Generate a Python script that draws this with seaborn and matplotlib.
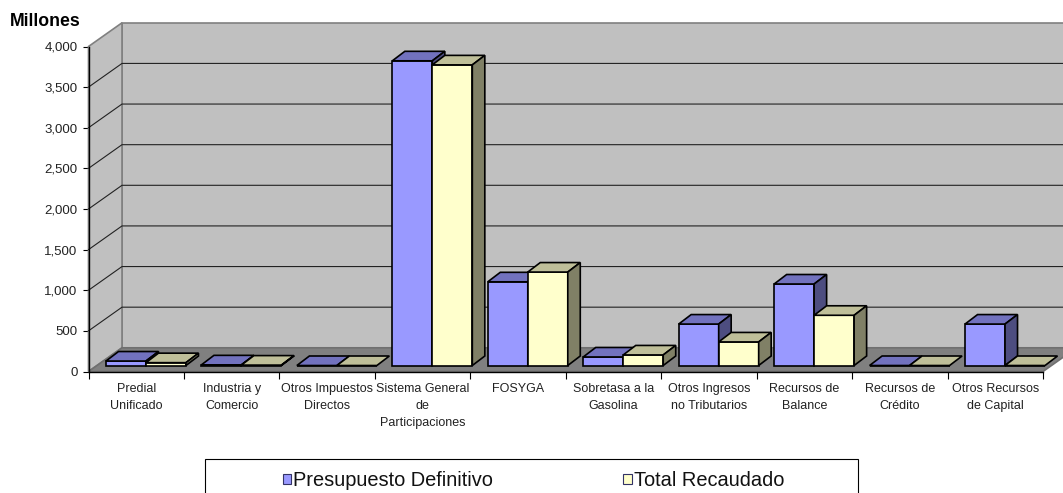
import pandas as pd
import seaborn as sns
import matplotlib.pyplot as plt
from matplotlib.patches import Polygon, Rectangle
from matplotlib.transforms import Affine2D

categorias = ['Predial\nUnificado', 'Industria y\nComercio', 'Otros Impuestos\nDirectos',
              'Sistema General\nde\nParticipaciones', 'FOSYGA', 'Sobretasa a la\nGasolina',
              'Otros Ingresos\nno Tributarios', 'Recursos de\nBalance', 'Recursos de\nCrédito',
              'Otros Recursos\nde Capital']
presupuesto = [55, 8, 0, 3750, 1030, 105, 510, 1003, 0, 510]
recaudado = [35, 5, 0, 3700, 1150, 130, 290, 618, 0, 0]
y_ticks = [0, 500, 1000, 1500, 2000, 2500, 3000, 3500, 4000]
y_labels = ['0', '500', '1,000', '1,500', '2,000', '2,500', '3,000', '3,500', '4,000']

W, H = 1063, 493
# profundidad del "3D" en pixeles
DX, DY = 33.5, 23.7
BAR_DX, BAR_DY = 9.75, 6
BAR_DEPTH_X, BAR_DEPTH_Y = 12.5, 9.5

sns.set_theme(style='white')
plt.rcParams['font.family'] = ['Liberation Sans', 'DejaVu Sans']

df = pd.DataFrame({
    'cat': categorias * 2,
    'valor': presupuesto + recaudado,
    'serie': ['Presupuesto Definitivo'] * 10 + ['Total Recaudado'] * 10,
})

fig = plt.figure(figsize=(W / 100, H / 100), dpi=100, facecolor='white')
ax = fig.add_axes([88.5 / W, (H - 371.5) / H, 954.5 / W, 325 / H])
ax.patch.set_visible(False)

sns.barplot(data=df, x='cat', y='valor', hue='serie', ax=ax, width=0.838, gap=0,
            palette=['#9999FF', '#FFFFCC'], edgecolor='black', linewidth=1.2,
            saturation=1, errorbar=None)
ax.set_xlim(-0.5, 9.5)
ax.set_ylim(0, 4000)
ax.set_xlabel('')
ax.set_ylabel('')

back = ax.transData + Affine2D().translate(DX, DY)

# paredes y piso
ax.add_patch(Polygon([(-0.5, 0), (-0.5, 4000), (9.5, 4000), (9.5, 0)], transform=back,
                     fc='#C0C0C0', ec='#808080', lw=1.2, zorder=0.5, clip_on=False))
left_wall = ax.transData.transform([(-0.5, 0), (-0.5, 4000)])
ax.add_patch(Polygon([left_wall[0], left_wall[1], left_wall[1] + (DX, DY), left_wall[0] + (DX, DY)],
                     transform=None, fc='#C0C0C0', ec='#808080', lw=1.2, zorder=0.6, clip_on=False))
floor = ax.transData.transform([(-0.5, 0), (9.5, 0)])
ax.add_patch(Polygon([floor[0], floor[1], floor[1] + (DX, DY), floor[0] + (DX, DY)],
                     transform=None, fc='#808080', ec='#707070', lw=1.2, zorder=0.7, clip_on=False))

# lineas de division
for t in y_ticks[1:-1]:
    p = ax.transData.transform((-0.5, t))
    ax.plot([p[0], p[0] + DX, W + 50], [p[1], p[1] + DY, p[1] + DY], color='#222222', lw=0.8,
            transform=None, zorder=0.8, clip_on=False)

# barras con cara superior y lateral
colores = {0: ('#7272BE', '#4D4D80'), 1: ('#BFBF99', '#808066')}
bar_shift = ax.transData + Affine2D().translate(BAR_DX, BAR_DY)
for s, cont in enumerate(ax.containers[:2]):
    for i, bar in enumerate(cont):
        z = 3 + i + s * 0.5
        bar.set_transform(bar_shift)
        bar.set_zorder(z)
        bar.set_clip_on(False)
        x0, w, h = bar.get_x(), bar.get_width(), bar.get_height()
        a, b, c = bar_shift.transform([(x0, h), (x0 + w, h), (x0 + w, 0)])
        d = (BAR_DEPTH_X, BAR_DEPTH_Y)
        ax.add_patch(Polygon([a, b, b + d, a + d], transform=None, fc=colores[s][0], ec='black',
                             lw=1.2, zorder=z, clip_on=False))
        if h > 0:
            ax.add_patch(Polygon([b, c, c + d, b + d], transform=None, fc=colores[s][1], ec='black',
                                 lw=1.2, zorder=z, clip_on=False))

sns.despine(ax=ax, top=True, right=True)
for lado in ['left', 'bottom']:
    ax.spines[lado].set_color('black')
    ax.spines[lado].set_linewidth(1.0)
    ax.spines[lado].set_zorder(2)

ax.set_yticks(y_ticks, y_labels)
ax.set_xticks([x + 0.5 for x in range(-1, 10)], minor=False, labels=[''] * 11)
ax.set_xticks(range(10), categorias, minor=True)
ax.tick_params(axis='y', which='major', left=True, length=4, width=0.8, color='black',
               labelsize=9.5, labelcolor='#222222', pad=4)
ax.tick_params(axis='x', which='major', bottom=True, length=5, width=0.8, color='black')
ax.tick_params(axis='x', which='minor', bottom=False, length=0, labelsize=9,
               labelcolor='#222222', pad=8)
for lab in ax.get_xticklabels(minor=True):
    lab.set_linespacing(1.6)

fig.text(10 / W, (H - 21) / H, 'Millones', fontsize=12.7, fontweight='bold', color='black',
         va='center', ha='left')

# marco de la leyenda, se corta en el borde inferior
fig.add_artist(Rectangle((205 / W, -5 / H), 653 / W, (H - 459 + 5) / H, transform=fig.transFigure,
                         fill=False, ec='black', lw=0.8))

handles, labels = ax.get_legend_handles_labels()
ax.legend(handles, labels, ncol=2, loc='lower left', bbox_to_anchor=(274 / W, -6 / H),
          bbox_transform=fig.transFigure, frameon=False, fontsize=14.4, borderaxespad=0,
          handlelength=0.42, handleheight=0.42, handletextpad=0.1, columnspacing=6.5,
          borderpad=0.45, labelcolor='#111111')
for h in ax.get_legend().legend_handles:
    h.set_edgecolor('#333366')
    h.set_linewidth(0.8)

fig.savefig('out.png', dpi=100, facecolor='white')
